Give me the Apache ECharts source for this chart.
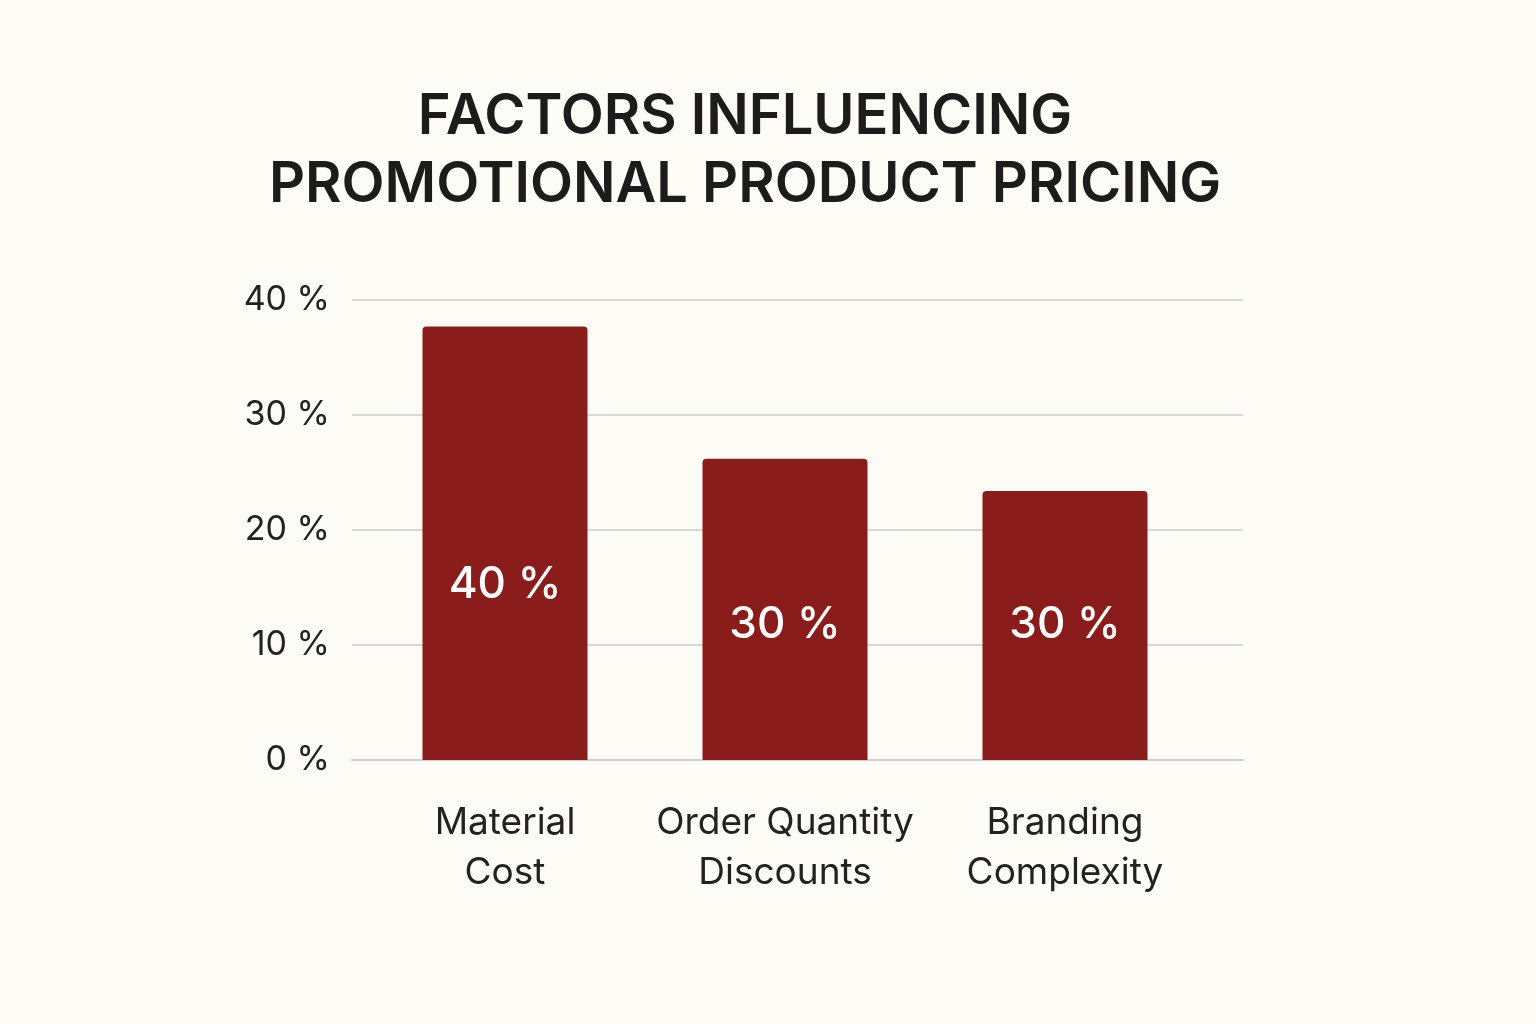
<!DOCTYPE html>
<html>
<head>
<meta charset="utf-8">
<script src="https://cdn.jsdelivr.net/npm/echarts@6/dist/echarts.min.js"></script>
<style>
  html, body { margin: 0; padding: 0; background: #fcfbf6; }
  #chart { width: 1536px; height: 1024px; }
</style>
</head>
<body>
<div id="chart"></div>
<script>
// Values
const categories = ['Material\nCost', 'Order Quantity\nDiscounts', 'Branding\nComplexity'];
const barHeights = [37.7, 26.2, 23.4];
const barLabels = ['40%', '30%', '30%'];
const labelDistances = [153, 113, 113];
const yTicks = [0, 10, 20, 30, 40];

const chart = echarts.init(document.getElementById('chart'));
const font = 'Inter';

chart.setOption({
    backgroundColor: '#fcfbf6',
    title: {
        text: 'FACTORS INFLUENCING\nPROMOTIONAL PRODUCT PRICING',
        left: 740,
        textAlign: 'center',
        top: 78,
        textStyle: {
            fontFamily: font,
            fontSize: 56,
            fontWeight: 600,
            lineHeight: 68,
            color: '#1c1c1c'
        }
    },
    grid: [
        { left: 365, right: 331, top: 300, bottom: 264 },   // bars
        { left: 352, right: 293, top: 300, bottom: 264 }    // gridlines + y labels
    ],
    xAxis: [{
        type: 'category',
        gridIndex: 0,
        data: categories,
        axisLine: { show: false },
        axisTick: { show: false },
        axisLabel: {
            interval: 0,
            color: '#222',
            fontFamily: font,
            fontSize: 37,
            lineHeight: 50,
            margin: 38
        }
    }, {
        type: 'category',
        gridIndex: 1,
        data: [''],
        axisLine: { lineStyle: { color: '#d0d0d0', width: 2 } },
        axisTick: { show: false },
        axisLabel: { show: false }
    }],
    yAxis: [{
        type: 'value',
        gridIndex: 0,
        min: yTicks[0],
        max: yTicks[yTicks.length - 1],
        interval: 10,
        show: false
    }, {
        type: 'value',
        gridIndex: 1,
        min: yTicks[0],
        max: yTicks[yTicks.length - 1],
        interval: 10,
        axisLine: { show: false },
        axisTick: { show: false },
        splitLine: { lineStyle: { color: '#d8d8d8', width: 2 } },
        axisLabel: {
            color: '#222',
            fontFamily: font,
            fontSize: 34,
            margin: 22,
            formatter: v => v + ' %'
        }
    }],
    series: [{
        type: 'bar',
        xAxisIndex: 0,
        yAxisIndex: 0,
        z: 3,
        barWidth: 165,
        data: barHeights.map((v, i) => ({
            value: v,
            label: {
                show: true,
                position: 'insideBottom',
                distance: labelDistances[i],
                formatter: barLabels[i].replace('%', ' %'),
                color: '#fff',
                fontFamily: font,
                fontSize: 44,
                fontWeight: 500
            }
        })),
        itemStyle: { color: '#8b1c1c', borderRadius: [4, 4, 0, 0] }
    }]
});
</script>
</body>
</html>
